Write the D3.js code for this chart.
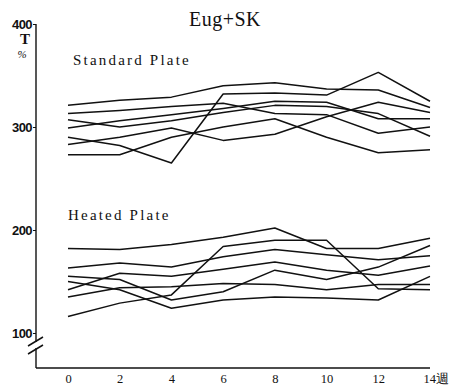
<html>
  <head>
    <meta charset="utf-8">
    <title>Eug+SK</title>
    <script src="https://d3js.org/d3.v7.min.js"></script>
    <style>
      body { margin: 0; background: #fff; }
      text { fill: #111; }
    </style>
  </head>
  <body>

    <svg id="grafico" width="450" height="386"></svg>

    <script>
    // semanas (eixo x)
    let weeks = [0, 2, 4, 6, 8, 10, 12, 14];
    let yTicks = [100, 200, 300, 400];

    // Standard Plate, T %
    let std1 = [321, 326, 329, 340, 343, 337, 336, 319];
    let std2 = [290, 282, 265, 332, 333, 331, 353, 325];
    let std3 = [273, 273, 290, 300, 308, 290, 275, 278];
    let std4 = [283, 290, 299, 287, 293, 310, 324, 314];
    let std5 = [313, 316, 320, 323, 313, 312, 294, 300];
    let std6 = [307, 300, 306, 314, 321, 320, 313, 291];
    let std7 = [299, 306, 312, 318, 325, 324, 308, 308];

    // Heated Plate, T %
    let heat1 = [182, 181, 186, 193, 202, 182, 182, 192];
    let heat2 = [163, 168, 164, 174, 181, 176, 171, 175];
    let heat3 = [116, 129, 137, 184, 190, 190, 143, 142];
    let heat4 = [150, 142, 124, 132, 135, 134, 132, 155];
    let heat5 = [155, 152, 132, 140, 161, 152, 164, 185];
    let heat6 = [142, 158, 155, 162, 169, 161, 156, 165];
    let heat7 = [135, 144, 145, 148, 147, 142, 147, 147];

    let series = [std1, std2, std3, std4, std5, std6, std7,
                  heat1, heat2, heat3, heat4, heat5, heat6, heat7];

    let svg = d3.select("#grafico");
    let serif = "'Liberation Serif', 'DejaVu Serif', serif";

    let x = d3.scaleLinear().domain([0, 14]).range([68, 430]);
    let y = d3.scaleLinear().domain([100, 400]).range([333, 24]);
    let axisX = 36, baseY = 368;

    // eixo y
    svg.append("line")
      .attr("x1", axisX).attr("x2", axisX)
      .attr("y1", y(400)).attr("y2", baseY)
      .attr("stroke", "#111").attr("stroke-width", 1.4);

    // quebra do eixo
    svg.append("rect").attr("x", axisX - 2).attr("y", 342).attr("width", 4).attr("height", 6).attr("fill", "#fff");
    [[28, 346, 43, 337], [28, 354, 43, 345]].forEach(function(s){
      svg.append("line")
        .attr("x1", s[0]).attr("y1", s[1]).attr("x2", s[2]).attr("y2", s[3])
        .attr("stroke", "#111").attr("stroke-width", 1.5);
    });

    let gy = svg.append("g")
      .attr("transform", "translate(" + axisX + ",0)")
      .call(d3.axisLeft(y).tickValues(yTicks).tickSize(3).tickPadding(1));
    gy.select(".domain").remove();
    gy.selectAll("line").attr("stroke", "#111");
    gy.selectAll("text")
      .attr("font-family", "'Liberation Sans', Arial, sans-serif")
      .attr("font-weight", "bold")
      .attr("font-size", 13)
      .attr("letter-spacing", -0.6)
      .attr("fill", "#111");

    // eixo x
    let gx = svg.append("g")
      .attr("transform", "translate(0," + baseY + ")")
      .call(d3.axisBottom(x).tickValues(weeks).tickSize(0).tickPadding(6)
        .tickFormat(d => d == 14 ? "14週" : d));
    gx.select(".domain")
      .attr("d", "M" + axisX + ",0H" + x(14))
      .attr("stroke", "#111").attr("stroke-width", 1.3);
    gx.selectAll("text")
      .attr("font-family", serif)
      .attr("font-size", 12.5)
      .attr("fill", "#111");
    gx.selectAll(".tick").filter(d => d == 14).select("text")
      .attr("text-anchor", "start").attr("dx", -7);

    // linhas
    let line = d3.line()
      .x((d, i) => x(weeks[i]))
      .y(d => y(d));

    svg.append("g")
      .selectAll("path")
      .data(series)
      .enter()
      .append("path")
      .attr("d", line)
      .attr("fill", "none")
      .attr("stroke", "#111")
      .attr("stroke-width", 1.5)
      .attr("stroke-linejoin", "round");

    // textos
    svg.append("text").attr("x", 225).attr("y", 26)
      .attr("text-anchor", "middle")
      .attr("font-family", serif).attr("font-size", 20)
      .attr("letter-spacing", 0.5)
      .text("Eug+SK");

    svg.append("text").attr("x", 25).attr("y", 44)
      .attr("text-anchor", "middle")
      .attr("font-family", serif).attr("font-size", 15)
      .attr("font-weight", "bold")
      .text("T");
    svg.append("text").attr("x", 22).attr("y", 58)
      .attr("text-anchor", "middle")
      .attr("font-family", serif).attr("font-size", 11)
      .attr("font-style", "italic")
      .style("fill", "#111")
      .text("%");

    svg.append("text").attr("x", 73).attr("y", 65)
      .attr("font-family", serif).attr("font-size", 15)
      .attr("letter-spacing", 2.2)
      .text("Standard Plate");

    svg.append("text").attr("x", 68).attr("y", 220)
      .attr("font-family", serif).attr("font-size", 15)
      .attr("letter-spacing", 2.2)
      .text("Heated Plate");
    </script>

  </body>
</html>
